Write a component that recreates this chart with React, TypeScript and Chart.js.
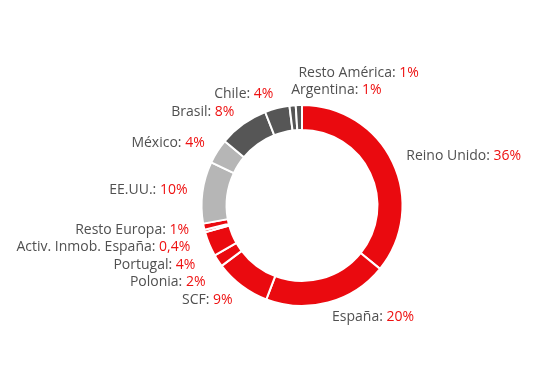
import React, { useEffect, useRef } from "react";
import { Chart, registerables } from "chart.js";

Chart.register(...registerables);

const categories = [
  "Reino Unido",
  "España",
  "SCF",
  "Polonia",
  "Portugal",
  "Activ. Inmob. España",
  "Resto Europa",
  "EE.UU.",
  "México",
  "Brasil",
  "Chile",
  "Argentina",
  "Resto América",
];
const values = [36, 20, 9, 2, 4, 0.4, 1, 10, 4, 8, 4, 1, 1];
const RED = "#ea0a0f";
const LIGHT = "#b6b6b6";
const DARK = "#565656";
const sliceColors = [RED, RED, RED, RED, RED, RED, RED, LIGHT, LIGHT, DARK, DARK, DARK, DARK];

const TEXT_GRAY = "#505050";
const TEXT_RED = "#ee1111";
const FONT = '14px "Open Sans"';

const fmt = (v: number) => String(v).replace(".", ",") + "%";

const labelPlugin = {
  id: "outerLabels",
  afterDraw(chart: any) {
    const meta = chart.getDatasetMeta(0);
    const ctx = chart.ctx as CanvasRenderingContext2D;
    const gap = 17.5;
    type L = { i: number; x: number; y: number; right: boolean; cy: number };
    const labels: L[] = [];
    meta.data.forEach((arc: any, i: number) => {
      const a = (arc.startAngle + arc.endAngle) / 2;
      const R = arc.outerRadius + 15;
      const c = Math.cos(a);
      const s = Math.sin(a);
      const right = c >= 0 || (c > -0.15 && s < 0);
      labels.push({ i, x: arc.x + R * c, y: arc.y + R * s, right, cy: arc.y });
    });
    for (const side of [true, false]) {
      const group = labels.filter((l) => l.right === side);
      const top = group.filter((l) => l.y < l.cy).sort((p, q) => q.y - p.y);
      const bottom = group.filter((l) => l.y >= l.cy).sort((p, q) => p.y - q.y);
      for (let k = 1; k < top.length; k++) {
        if (top[k].y > top[k - 1].y - gap) top[k].y = top[k - 1].y - gap;
      }
      for (let k = 1; k < bottom.length; k++) {
        if (bottom[k].y < bottom[k - 1].y + gap) bottom[k].y = bottom[k - 1].y + gap;
      }
    }
    ctx.save();
    ctx.font = FONT;
    ctx.textBaseline = "middle";
    labels.forEach((l) => {
      const name = categories[l.i] + ": ";
      const val = fmt(values[l.i]);
      const nw = ctx.measureText(name).width;
      const vw = ctx.measureText(val).width;
      const startX = l.right ? l.x : l.x - nw - vw;
      ctx.textAlign = "left";
      ctx.fillStyle = TEXT_GRAY;
      ctx.fillText(name, startX, l.y);
      ctx.fillStyle = TEXT_RED;
      ctx.fillText(val, startX + nw, l.y);
    });
    ctx.restore();
  },
};

export default function App() {
  const ref = useRef<HTMLCanvasElement>(null);
  useEffect(() => {
    if (!ref.current) return;
    const chart = new Chart(ref.current, {
      type: "doughnut",
      data: {
        labels: categories,
        datasets: [
          {
            data: values,
            backgroundColor: sliceColors,
            borderColor: "#ffffff",
            borderWidth: 2,
            hoverOffset: 0,
          },
        ],
      },
      options: {
        responsive: false,
        animation: false,
        radius: 100.5,
        cutout: "75.1%",
        layout: { padding: { left: 65, top: 27, right: 0, bottom: 0 } },
        plugins: {
          legend: { display: false },
          tooltip: { enabled: false },
        },
      } as any,
      plugins: [labelPlugin],
    });
    return () => chart.destroy();
  }, []);
  return (
    <div style={{ position: "fixed", left: 0, top: 0, width: 539, height: 384, background: "#fff" }}>
      <canvas ref={ref} width={539} height={384} />
    </div>
  );
}
